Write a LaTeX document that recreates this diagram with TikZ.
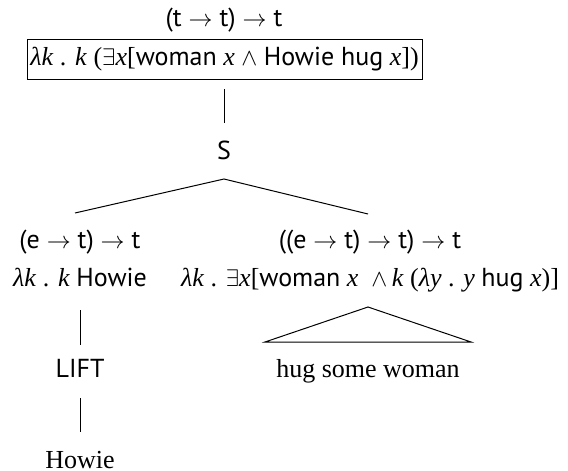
\documentclass[tikz,border=0pt]{standalone}
\usepackage{fontspec}
\setmainfont{Liberation Serif}
\setsansfont{PT Sans}
\newcommand{\ty}[1]{{\sffamily #1}}
\newcommand{\V}[1]{\textit{#1}}
\newcommand{\ar}{$\rightarrow$}
\begin{document}
\begin{tikzpicture}[x=0.5pt,y=-0.5pt,
  every node/.style={inner sep=0pt, font=\fontsize{13}{15}\selectfont},
  ln/.style={line width=0.5pt},
  lbl/.style={anchor=base}]
\useasboundingbox (0,0) rectangle (568,471);
% top
\node[lbl] (topT) at (224,26) {\ty{(t \ar\ t) \ar\ t}};
\node[draw, ln, minimum width=197.5pt, minimum height=20pt] (box) at (224.5,59)
  {\V{λk} . \V{k} ($\exists$\V{x}[\ty{woman} \V{x} $\wedge$ \ty{Howie hug} \V{x}])};
\node[lbl] (S) at (224,159) {\ty{S}};
\coordinate (boxLine) at (224,89);
\coordinate (SLine) at (224,123);
\draw[ln] (boxLine) -- (SLine);
% branches
\coordinate (Sa) at (224,179);
\coordinate (La) at (75,213);
\coordinate (Ra) at (368,214);
\draw[ln] (La) -- (Sa) -- (Ra);
% left
\node[lbl] (lt) at (80,248) {\ty{(e \ar\ t) \ar\ t}};
\node[lbl] (lf) at (80,286) {\V{λk} . \V{k} \ty{Howie}};
\coordinate (l1a) at (80,310);
\coordinate (l1b) at (80,345);
\draw[ln] (l1a) -- (l1b);
\node[lbl] (lift) at (80,377) {\ty{LIFT}};
\coordinate (l2a) at (80,398);
\coordinate (l2b) at (80,432);
\draw[ln] (l2a) -- (l2b);
\node[lbl] (howie) at (80,468) {Howie};
% right
\node[lbl] (rt) at (370,248) {\ty{((e \ar\ t) \ar\ t) \ar\ t}};
\node[lbl] (rf) at (370,286) {\V{λk} . $\exists$\V{x}[\ty{woman} \V{x} \ $\wedge$\,\V{k} (\V{λy} . \V{y} \ty{hug} \V{x})]};
\coordinate (tA) at (368,307);
\coordinate (tL) at (265,342);
\coordinate (tR) at (471,342);
\draw[ln] (tA) -- (tL) -- (tR) -- cycle;
\node[lbl] (hsw) at (368,377) {hug some woman};
\end{tikzpicture}
\end{document}
